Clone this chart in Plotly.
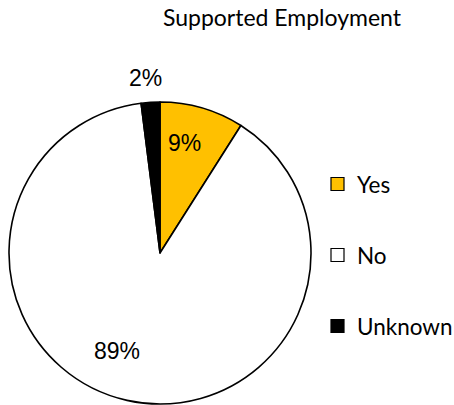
import math
import plotly.graph_objects as go

# Share of respondents in supported employment
categories = ["Yes", "No", "Unknown"]
percent = [9, 89, 2]
slice_colors = ["#FFC000", "#FFFFFF", "#000000"]

W, H = 454, 405
cx, cy, r = 160, 253, 151  # pie centre and radius in pixels

fig = go.Figure(
    go.Pie(
        labels=categories,
        values=percent,
        sort=False,
        direction="clockwise",
        rotation=0,
        textinfo="none",
        hoverinfo="label+percent",
        marker=dict(colors=slice_colors, line=dict(color="#000000", width=1.6)),
        domain=dict(x=[(cx - r) / W, (cx + r) / W], y=[1 - (cy + r) / H, 1 - (cy - r) / H]),
        showlegend=False,
    )
)

# value labels placed along each slice's mid-angle
label_radius = [0.75, 0.71, 1.16]
angle_nudge = [-3.5, 11.0, -1.3]
annotations = []
total = sum(percent)
start = 0.0
for v, rf, nudge in zip(percent, label_radius, angle_nudge):
    mid = (start + v / 2) / total * 360 + nudge
    start += v
    px = cx + rf * r * math.sin(math.radians(mid))
    py = cy - rf * r * math.cos(math.radians(mid))
    annotations.append(dict(
        x=px / W, y=1 - py / H, xref="paper", yref="paper",
        text=f"{v}%", showarrow=False,
        font=dict(family="Liberation Sans, Arial", size=23, color="#000000"),
        xanchor="center", yanchor="middle",
    ))

# legend drawn as swatches and labels on the right
shapes = []
leg_x, leg_y0, leg_step, sw = 331, 184, 71, 13
for i, (name, col) in enumerate(zip(categories, slice_colors)):
    yc = leg_y0 + i * leg_step
    shapes.append(dict(
        type="rect", xref="paper", yref="paper",
        x0=leg_x / W, x1=(leg_x + sw) / W,
        y0=1 - (yc + sw / 2) / H, y1=1 - (yc - sw / 2) / H,
        fillcolor=col, line=dict(color="#000000", width=1.2),
    ))
    annotations.append(dict(
        x=(leg_x + sw + 11) / W, y=1 - yc / H, xref="paper", yref="paper",
        text=name, showarrow=False, xanchor="left", yanchor="middle",
        font=dict(family="Lato, Carlito, Calibri", size=22.5, color="#000000"),
    ))

fig.update_layout(
    width=W, height=H,
    margin=dict(l=0, r=0, t=0, b=0),
    paper_bgcolor="#FFFFFF",
    plot_bgcolor="#FFFFFF",
    title=dict(
        text="Supported Employment",
        x=282 / W, y=1 - 18 / H, xanchor="center", yanchor="middle",
        font=dict(family="Lato, Carlito, Calibri", size=23, color="#000000"),
    ),
    annotations=annotations,
    shapes=shapes,
)

fig.write_html("out.html")
